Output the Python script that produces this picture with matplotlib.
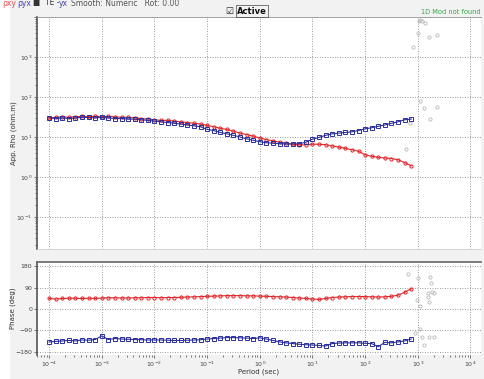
import numpy as np
import matplotlib
matplotlib.use("Agg")
import matplotlib.pyplot as plt
from matplotlib.ticker import FixedLocator, FixedFormatter, NullFormatter
from matplotlib.patches import Rectangle

# ---------------- data ----------------
period = [
    1.00e-4, 1.33e-4, 1.78e-4, 2.37e-4, 3.16e-4, 4.22e-4, 5.62e-4, 7.50e-4,
    1.00e-3, 1.33e-3, 1.78e-3, 2.37e-3, 3.16e-3, 4.22e-3, 5.62e-3, 7.50e-3,
    1.00e-2, 1.33e-2, 1.78e-2, 2.37e-2, 3.16e-2, 4.22e-2, 5.62e-2, 7.50e-2,
    1.00e-1, 1.33e-1, 1.78e-1, 2.37e-1, 3.16e-1, 4.22e-1, 5.62e-1, 7.50e-1,
    1.00e0, 1.33e0, 1.78e0, 2.37e0, 3.16e0, 4.22e0, 5.62e0, 7.50e0,
    1.00e1, 1.33e1, 1.78e1, 2.37e1, 3.16e1, 4.22e1, 5.62e1, 7.50e1,
    1.00e2, 1.33e2, 1.78e2, 2.37e2, 3.16e2, 4.22e2, 5.62e2, 7.50e2,
]

rho_xy = [
    30, 31, 32, 31, 32, 33, 32, 33,
    32, 33, 32, 31, 31, 30, 29, 28,
    27, 26, 26, 25, 24, 23, 22, 21,
    19.5, 18, 16.5, 15.5, 14, 12.5, 11.5, 10.5,
    9.5, 8.6, 8.0, 7.5, 7.0, 6.6, 6.3, 6.4,
    6.6, 6.6, 6.4, 6.0, 5.6, 5.2, 4.8, 4.4,
    3.6, 3.3, 3.1, 3.0, 2.9, 2.7, 2.3, 1.9,
]
rho_yx = [
    30, 29, 30, 29, 30, 31, 31, 30,
    31, 30, 29, 29, 28, 28, 27, 26,
    25, 24, 23, 22, 21, 20, 19, 18,
    15.5, 14.5, 13, 12, 11, 10, 9, 8.3,
    7.6, 7.2, 7.0, 6.8, 6.7, 6.7, 6.8, 7.4,
    8.8, 9.8, 11, 12, 12.5, 13, 13.5, 14.5,
    16, 17, 18.5, 20, 22, 24, 27, 28,
]
phase_xy = [
    44, 42, 44, 45, 45, 44, 45, 44,
    46, 47, 47, 46, 46, 47, 47, 48,
    48, 47, 48, 48, 49, 50, 51, 52,
    53, 54, 55, 56, 56, 56, 55, 55,
    54, 53, 52, 51, 50, 48, 46, 44,
    42, 40, 44, 48, 50, 51, 52, 52,
    52, 51, 50, 51, 53, 58, 70, 85,
]
phase_yx = [
    -138, -136, -134, -132, -134, -130, -131, -128,
    -113, -128, -124, -126, -127, -128, -129, -130,
    -130, -130, -131, -132, -132, -131, -130, -129,
    -126, -124, -122, -120, -120, -121, -122, -124,
    -121, -126, -132, -138, -142, -145, -148, -150,
    -151, -153, -155, -145, -143, -142, -142, -142,
    -144, -145, -158, -140, -142, -138, -134, -126,
]

# masked (grey) data beyond the used band
grey_rho_period = [800, 1000, 1050, 1100, 1200, 1400, 1650, 2300, 1100, 1300, 1700, 2300, 700, 600]
grey_rho = [1780, 4000, 8000, 8500, 8000, 7000, 3200, 3500, 80, 52, 28, 56, 22, 5]
grey_ph_period = [650, 1000, 950, 1080, 1580, 1580, 1620, 1700, 1800, 1850, 2050, 1100, 900, 1200, 1300, 1620, 2050]
grey_ph = [146, 130, 38, 13, 50, 67, 29, 134, 109, 71, 67, -84, -100, -117, -151, -117, -117]

period_ticks = [1e-4, 1e-3, 1e-2, 1e-1, 1e0, 1e1, 1e2, 1e3, 1e4]
period_ticklabels = ["$10^{-4}$", "$10^{-3}$", "$10^{-2}$", "$10^{-1}$", "$10^{0}$",
                     "$10^{1}$", "$10^{2}$", "$10^{3}$", "$10^{4}$"]
rho_ticks = [1e-1, 1, 10, 100, 1000, 10000]
rho_ticklabels = ["$10^{-1}$", "$10^{0}$", "$10^{1}$", "$10^{2}$", "$10^{3}$", ""]
phase_ticks = [-180, -90, 0, 90, 180]

red = "#e0262a"
blue = "#2b2f9c"
grey = "#b8b8b8"

# ---------------- figure ----------------
fig = plt.figure(figsize=(4.84, 3.79), dpi=100, facecolor="#f2f2f2")
W, H = 484, 379
fig.patches.append(Rectangle((0, 0), 10 / W, 1, transform=fig.transFigure,
                             facecolor="white", edgecolor="none", zorder=-1))

def ax_rect(l, t, r, b):
    return [l / W, 1 - b / H, (r - l) / W, (b - t) / H]

ax1 = fig.add_axes(ax_rect(37, 17, 481, 249))
ax2 = fig.add_axes(ax_rect(37, 262, 481, 355))

xmin, xmax = 10 ** -4.23, 10 ** 4.2
minor_x = [m * 10.0 ** e for e in range(-5, 5) for m in range(2, 10)
           if xmin <= m * 10.0 ** e <= xmax]

for ax in (ax1, ax2):
    ax.set_facecolor("white")
    ax.set_xscale("log")
    ax.set_xlim(xmin, xmax)
    ax.grid(True, which="major", linestyle=(0, (1, 2)), color="#7a7a7a", linewidth=0.6)
    ax.tick_params(which="both", direction="out", labelsize=4.5, colors="#444444",
                   length=2, width=0.5, pad=1.5)
    ax.tick_params(which="minor", length=1.5)
    ax.spines["right"].set_visible(False)
    ax.spines["left"].set_color("#555555")
    ax.spines["left"].set_linewidth(1.2)
    ax.xaxis.set_major_locator(FixedLocator(period_ticks))
    ax.xaxis.set_major_formatter(FixedFormatter(period_ticklabels))
    ax.xaxis.set_minor_locator(FixedLocator(minor_x))
    ax.xaxis.set_minor_formatter(NullFormatter())

# top panel
ax1.set_yscale("log")
ax1.set_ylim(10 ** -1.8, 10 ** 4)
minor_y = [m * 10.0 ** e for e in range(-2, 4) for m in range(2, 10)
           if 10 ** -1.8 <= m * 10.0 ** e <= 10 ** 4]
ax1.yaxis.set_major_locator(FixedLocator(rho_ticks))
ax1.yaxis.set_major_formatter(FixedFormatter(rho_ticklabels))
ax1.yaxis.set_minor_locator(FixedLocator(minor_y))
ax1.yaxis.set_minor_formatter(NullFormatter())
ax1.tick_params(axis="x", which="both", labelbottom=False, length=0)
ax1.spines["top"].set_color("#9a9a9a")
ax1.spines["top"].set_linewidth(0.6)
ax1.spines["bottom"].set_color("#cfcfcf")
ax1.spines["bottom"].set_linewidth(0.6)

ax1.plot(grey_rho_period, grey_rho, linestyle="none", marker="o", ms=2.3, mfc="none",
         mec=grey, mew=0.6)
ax1.plot(period, rho_xy, color=red, lw=0.8, marker="o", ms=2.3, mfc="none", mec=red, mew=0.7)
ax1.plot(period, rho_yx, color=blue, lw=0.8, marker="s", ms=2.3, mfc="none", mec=blue, mew=0.7)
ax1.set_ylabel("App. Rho (ohm.m)", fontsize=5, color="#333333")
ax1.yaxis.set_label_coords(-20 / 444, 0.5)

# bottom panel
ax2.set_ylim(-193, 197)
ax2.set_yticks(phase_ticks)
ax2.spines["top"].set_color("#666666")
ax2.spines["top"].set_linewidth(1.2)
ax2.spines["bottom"].set_visible(False)

ax2.plot(grey_ph_period, grey_ph, linestyle="none", marker="o", ms=2.3, mfc="none",
         mec=grey, mew=0.6)
ax2.plot(period, phase_xy, color=red, lw=0.8, marker="o", ms=2.3, mfc="none", mec=red, mew=0.7)
ax2.plot(period, phase_yx, color=blue, lw=0.8, marker="s", ms=2.3, mfc="none", mec=blue, mew=0.7)
ax2.set_ylabel("Phase (deg)", fontsize=5, color="#333333")
ax2.yaxis.set_label_coords(-21 / 444, 0.5)
ax2.set_xlabel("Period (sec)", fontsize=5, color="#333333", va="center")
ax2.xaxis.set_label_coords(0.5, -(372 - 355) / 93)

# header texts
y_head = 1 - 3 / H
fig.text(2 / W, y_head, "ρxy", color="#e05050", fontsize=5.5, va="center", ha="left")
fig.text(17 / W, y_head, "ρyx", color="#4040b0", fontsize=5.5, va="center", ha="left")
fig.text(33 / W, y_head, "■  TE -", color="#333333", fontsize=5.5, va="center", ha="left")
fig.text(59 / W, y_head, "yx", color="#4040b0", fontsize=5.5, va="center", ha="left")
fig.text(71 / W, y_head, "Smooth: Numeric   Rot: 0.00", color="#555555", fontsize=5.5,
         va="center", ha="left")
fig.text(229 / W, 1 - 11 / H, "☑", color="#222222", fontsize=6.5, va="center", ha="center")
fig.text(237 / W, 1 - 11 / H, "Active", color="#111111", fontsize=6, fontweight="bold",
         va="center", ha="left",
         bbox=dict(boxstyle="square,pad=0.15", fc="none", ec="#444444", lw=0.5))
fig.text(481 / W, 1 - 12 / H, "1D Mod not found", color="#3aa64a", fontsize=4.8,
         va="center", ha="right")

fig.savefig("out.png", dpi=100, facecolor=fig.get_facecolor())
